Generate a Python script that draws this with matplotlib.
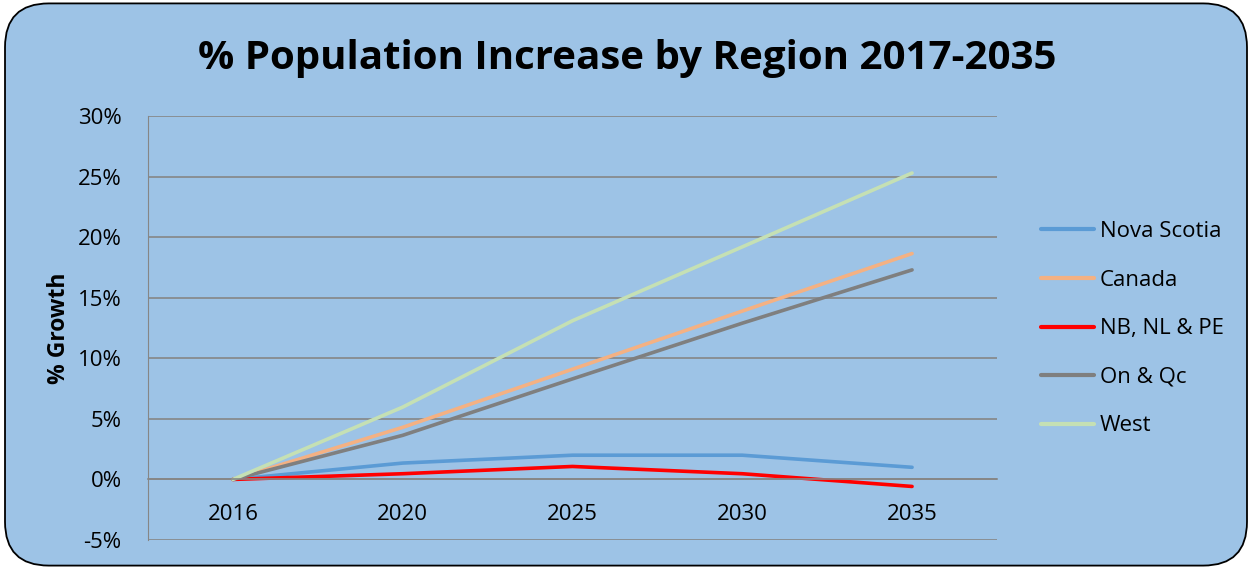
import numpy as np
from matplotlib import pyplot as plt
from matplotlib.patches import FancyBboxPatch
from matplotlib.ticker import PercentFormatter

years = ["2016", "2020", "2025", "2030", "2035"]
nova_scotia = [0.0, 1.35, 2.0, 2.0, 1.0]
canada = [0.0, 4.3, 9.1, 13.9, 18.65]
nb_nl_pe = [0.0, 0.47, 1.07, 0.47, -0.58]
on_qc = [0.0, 3.64, 8.3, 12.9, 17.3]
west = [0.0, 5.97, 13.1, 19.2, 25.3]

bg = "#9DC3E6"
plt.rcParams['font.family'] = ['Open Sans', 'DejaVu Sans']
plt.rcParams['axes.unicode_minus'] = False

fig = plt.figure(figsize=(12.52, 5.69), dpi=100)
fig.patch.set_facecolor("white")
# rounded chart border
box = FancyBboxPatch((0.004, 0.006), 0.992, 0.988, boxstyle="round,pad=0,rounding_size=0.035",
                     transform=fig.transFigure, facecolor=bg, edgecolor="black", lw=1.3,
                     mutation_aspect=1252/569, zorder=-1)
fig.patches.append(box)

ax = fig.add_axes([0.1182, 0.051, 0.6781, 0.745])
ax.set_facecolor(bg)
x = np.arange(len(years))

ax.plot(x, np.array(nova_scotia)/100, color="#5B9BD5", lw=2.6, label="Nova Scotia", solid_capstyle="round")
ax.plot(x, np.array(canada)/100, color="#F4B183", lw=2.6, label="Canada", solid_capstyle="round")
ax.plot(x, np.array(nb_nl_pe)/100, color="#FF0000", lw=2.6, label="NB, NL & PE", solid_capstyle="round")
ax.plot(x, np.array(on_qc)/100, color="#7F7F7F", lw=2.6, label="On & Qc", solid_capstyle="round")
ax.plot(x, np.array(west)/100, color="#C5E0B4", lw=2.6, label="West", solid_capstyle="round")

ax.set_xlim(-0.5, 4.5)
ax.set_ylim(-0.05, 0.30)
ax.set_yticks(np.arange(-0.05, 0.301, 0.05))
ax.yaxis.set_major_formatter(PercentFormatter(1.0, decimals=0))
ax.set_xticks(x)
ax.set_xticklabels(years)
ax.grid(axis="y", color="#868686", lw=1.2)
ax.set_axisbelow(True)

for s in ["top", "right"]:
    ax.spines[s].set_visible(False)
ax.spines["left"].set_color("#868686")
ax.spines["bottom"].set_position(("data", 0))
ax.spines["bottom"].set_color("#868686")
ax.spines["bottom"].set_linewidth(1.2)
ax.tick_params(axis="x", length=0, pad=18, labelsize=16)
ax.tick_params(axis="y", length=0, pad=19, labelsize=16)

ax.set_ylabel("% Growth", fontsize=16.5, fontweight="bold", labelpad=5)

fig.text(0.501, 0.898, "% Population Increase by Region 2017-2035", ha="center", va="center",
         fontsize=29, fontweight="bold")

leg = ax.legend(loc="center left", bbox_to_anchor=(1.028, 0.498), frameon=False, fontsize=16,
                handlelength=2.4, labelspacing=1.24, handletextpad=0.27)
for l in leg.get_lines():
    l.set_linewidth(3)

fig.savefig("out.png", dpi=100, facecolor=fig.get_facecolor())
